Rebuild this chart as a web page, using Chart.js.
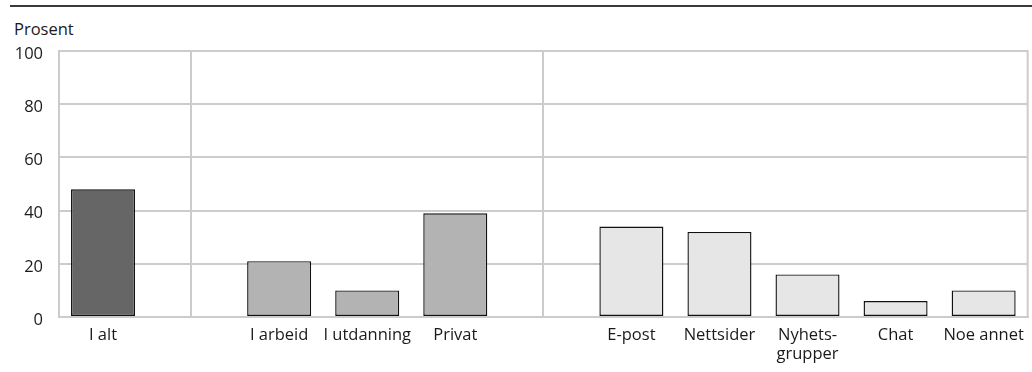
<!DOCTYPE html>
<html>
<head>
<meta charset="utf-8">
<script src="https://cdn.jsdelivr.net/npm/chart.js@4/dist/chart.umd.min.js"></script>
<style>
  html, body { margin: 0; padding: 0; background: #fff; }
  #wrap { position: relative; width: 1032px; height: 372px; }
  #rule { position: absolute; left: 10px; right: 0; top: 5px; height: 2px; background: #3a3a3a; }
  #unit { position: absolute; left: 14px; top: 17px; font: 16.5px "Open Sans", sans-serif; color: #1a1a1a; }
  canvas { position: absolute; left: 0; top: 0; }
</style>
</head>
<body>
<div id="wrap">
  <div id="rule"></div>
  <div id="unit">Prosent</div>
  <canvas id="chart" width="1032" height="372"></canvas>
</div>
<script>
// empty labels are spacer slots between the three groups
const categories = ['I alt', '', 'I arbeid', 'I utdanning', 'Privat', '', 'E-post', 'Nettsider', ['Nyhets-', 'grupper'], 'Chat', 'Noe annet']
const values = [48, null, 21, 10, 39, null, 34, 32, 16, 6, 10]
const groups = [0, null, 1, 1, 1, null, 2, 2, 2, 2, 2]
const yTicks = [0, 20, 40, 60, 80, 100]

const groupColors = ['#666666', '#b3b3b3', '#e6e6e6']
const gridColor = '#cccccc'
const textColor = '#1a1a1a'
const font = { family: '"Open Sans", sans-serif', size: 16.5, lineHeight: 1.2 }

// right edge of the plot frame
const frameRight = {
  id: 'frameRight',
  beforeDatasetsDraw(chart) {
    const { ctx, chartArea } = chart
    ctx.save()
    ctx.strokeStyle = gridColor
    ctx.lineWidth = 2
    ctx.beginPath()
    ctx.moveTo(chartArea.right, chartArea.top - 1)
    ctx.lineTo(chartArea.right, chartArea.bottom + 1)
    ctx.stroke()
    ctx.restore()
  }
}

new Chart(document.getElementById('chart'), {
  type: 'bar',
  data: {
    labels: categories,
    datasets: [{
      data: values,
      backgroundColor: groups.map(g => g === null ? 'transparent' : groupColors[g]),
      borderColor: '#111111',
      borderWidth: 1.4,
      borderSkipped: false,
      categoryPercentage: 1,
      barPercentage: 0.727
    }]
  },
  options: {
    responsive: false,
    animation: false,
    layout: { padding: { top: 51, right: 3, left: 0, bottom: 0 } },
    plugins: {
      legend: { display: false },
      tooltip: { enabled: false }
    },
    scales: {
      x: {
        afterFit: (scale) => { scale.height = 55 },
        grid: {
          offset: false,
          drawTicks: false,
          lineWidth: 2,
          color: (c) => categories[c.index] === '' ? gridColor : 'transparent'
        },
        border: { color: gridColor, width: 2 },
        ticks: {
          color: textColor,
          font: font,
          padding: 8,
          maxRotation: 0,
          autoSkip: false
        }
      },
      y: {
        min: 0,
        max: 100,
        afterFit: (scale) => { scale.width = 59 },
        afterBuildTicks: (scale) => { scale.ticks = yTicks.map(v => ({ value: v })) },
        grid: { color: gridColor, lineWidth: 2, drawTicks: false },
        border: { color: gridColor, width: 2 },
        ticks: {
          color: textColor,
          font: font,
          padding: 16,
          labelOffset: 3
        }
      }
    }
  },
  plugins: [frameRight]
})
</script>
</body>
</html>
